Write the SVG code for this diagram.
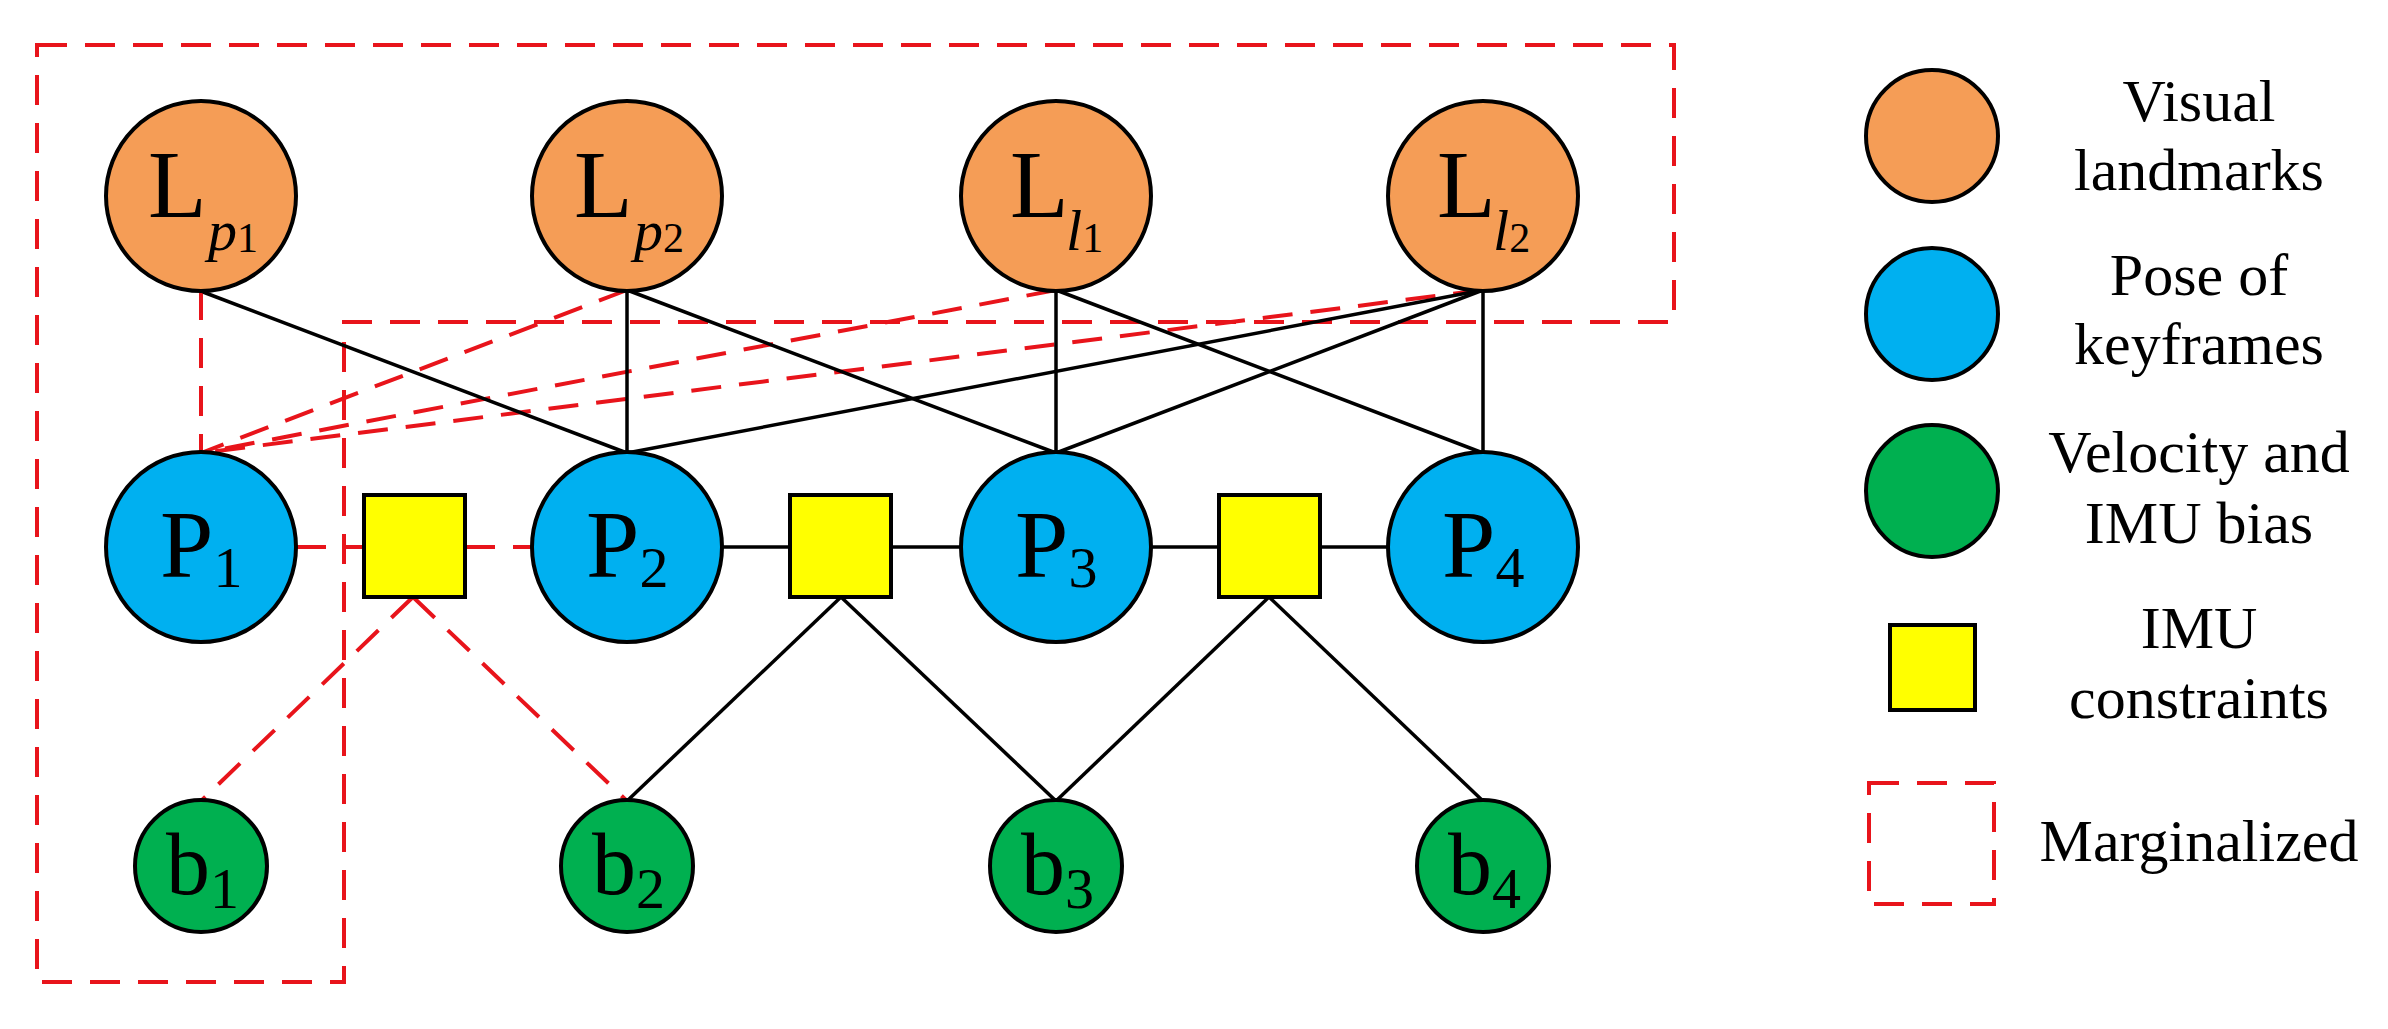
<svg xmlns="http://www.w3.org/2000/svg" width="2388" height="1029" viewBox="0 0 2388 1029">
<style>
.o{fill:#F59D56;stroke:#000;stroke-width:4}
.b{fill:#00B0F0;stroke:#000;stroke-width:4}
.g{fill:#00B050;stroke:#000;stroke-width:4}
.y{fill:#FFFF00;stroke:#000;stroke-width:4}
.k{stroke:#000;stroke-width:3.5;fill:none}
.r{stroke:#E8141B;stroke-width:4;fill:none;stroke-dasharray:30,18}
text{font-family:"Liberation Serif","Times New Roman",serif;fill:#000}
.n{font-size:96px}
.s{font-size:58px}
.ss{font-size:42px}
.i{font-style:italic}
.lg{font-size:60px;text-anchor:middle}
</style>
<rect width="2388" height="1029" fill="#fff"/>
<g id="connectors">
<path class="r" d="M37,45 H1674 V322 H344 V982 H37 Z"/>
<line class="r" x1="201" y1="290" x2="201" y2="453"/>
<line class="r" x1="627" y1="290" x2="201" y2="453"/>
<line class="r" x1="1056" y1="290" x2="201" y2="453"/>
<line class="r" x1="1483" y1="290" x2="201" y2="453"/>
<line class="r" x1="296" y1="547" x2="364" y2="547"/>
<line class="r" x1="465" y1="547" x2="532" y2="547"/>
<line class="r" x1="413" y1="597" x2="201" y2="801"/>
<line class="r" x1="413" y1="597" x2="627" y2="801"/>
<line class="k" x1="203" y1="292" x2="627" y2="453"/>
<line class="k" x1="627" y1="290" x2="627" y2="453"/>
<line class="k" x1="627" y1="290" x2="1056" y2="453"/>
<line class="k" x1="1056" y1="290" x2="1056" y2="453"/>
<line class="k" x1="1056" y1="290" x2="1483" y2="453"/>
<line class="k" x1="1483" y1="290" x2="627" y2="453"/>
<line class="k" x1="1483" y1="290" x2="1056" y2="453"/>
<line class="k" x1="1483" y1="290" x2="1483" y2="453"/>
<line class="k" x1="722" y1="547" x2="790" y2="547"/>
<line class="k" x1="891" y1="547" x2="961" y2="547"/>
<line class="k" x1="1151" y1="547" x2="1219" y2="547"/>
<line class="k" x1="1320" y1="547" x2="1388" y2="547"/>
<line class="k" x1="841" y1="597" x2="627" y2="801"/>
<line class="k" x1="841" y1="597" x2="1056" y2="801"/>
<line class="k" x1="1269" y1="597" x2="1056" y2="801"/>
<line class="k" x1="1269" y1="597" x2="1483" y2="801"/>
</g>
<g id="Lp1"><circle class="o" cx="201" cy="196" r="95"/><text x="148" y="217" class="n">L<tspan class="s i" x="208" y="250">p</tspan><tspan class="ss" y="252">1</tspan></text></g>
<g id="Lp2"><circle class="o" cx="627" cy="196" r="95"/><text x="574" y="217" class="n">L<tspan class="s i" x="634" y="250">p</tspan><tspan class="ss" y="252">2</tspan></text></g>
<g id="Ll1"><circle class="o" cx="1056" cy="196" r="95"/><text x="1010" y="217" class="n">L<tspan class="s i" x="1066" y="250">l</tspan><tspan class="ss" y="252">1</tspan></text></g>
<g id="Ll2"><circle class="o" cx="1483" cy="196" r="95"/><text x="1437" y="217" class="n">L<tspan class="s i" x="1493" y="250">l</tspan><tspan class="ss" y="252">2</tspan></text></g>
<g id="P1"><circle class="b" cx="201" cy="547" r="95"/><text x="160" y="577" class="n">P<tspan class="s" y="587">1</tspan></text></g>
<g id="P2"><circle class="b" cx="627" cy="547" r="95"/><text x="586" y="577" class="n">P<tspan class="s" y="587">2</tspan></text></g>
<g id="P3"><circle class="b" cx="1056" cy="547" r="95"/><text x="1015" y="577" class="n">P<tspan class="s" y="587">3</tspan></text></g>
<g id="P4"><circle class="b" cx="1483" cy="547" r="95"/><text x="1442" y="577" class="n">P<tspan class="s" y="587">4</tspan></text></g>
<g id="F1"><rect class="y" x="364" y="495" width="101" height="102"/></g>
<g id="F2"><rect class="y" x="790" y="495" width="101" height="102"/></g>
<g id="F3"><rect class="y" x="1219" y="495" width="101" height="102"/></g>
<g id="b1"><circle class="g" cx="201" cy="866" r="66"/><text x="166" y="894" class="n" style="font-size:88px">b<tspan class="s" y="908">1</tspan></text></g>
<g id="b2"><circle class="g" cx="627" cy="866" r="66"/><text x="592" y="894" class="n" style="font-size:88px">b<tspan class="s" y="908">2</tspan></text></g>
<g id="b3"><circle class="g" cx="1056" cy="866" r="66"/><text x="1021" y="894" class="n" style="font-size:88px">b<tspan class="s" y="908">3</tspan></text></g>
<g id="b4"><circle class="g" cx="1483" cy="866" r="66"/><text x="1448" y="894" class="n" style="font-size:88px">b<tspan class="s" y="908">4</tspan></text></g>
<g id="legend">
<circle class="o" cx="1932" cy="136" r="66"/>
<text class="lg" x="2199" y="121">Visual</text><text class="lg" x="2199" y="190">landmarks</text>
<circle class="b" cx="1932" cy="314" r="66"/>
<text class="lg" x="2199" y="295">Pose of</text><text class="lg" x="2199" y="364">keyframes</text>
<circle class="g" cx="1932" cy="491" r="66"/>
<text class="lg" x="2199" y="472">Velocity and</text><text class="lg" x="2199" y="543">IMU bias</text>
<rect class="y" x="1890" y="625" width="85" height="85"/>
<text class="lg" x="2199" y="648">IMU</text><text class="lg" x="2199" y="718">constraints</text>
<rect class="r" x="1869" y="783" width="125" height="121"/>
<text class="lg" x="2199" y="861">Marginalized</text>
</g>
</svg>
